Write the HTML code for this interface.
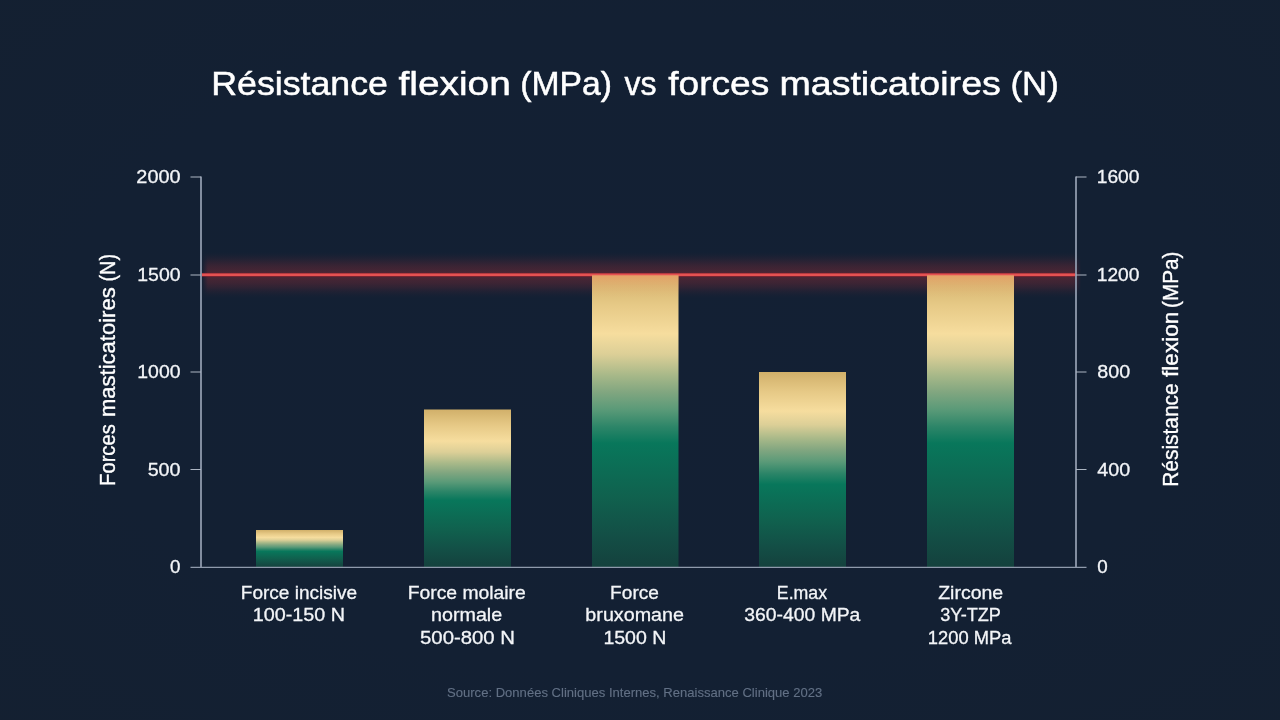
<!DOCTYPE html>
<html lang="fr">
<head>
<meta charset="utf-8">
<title>Résistance flexion (MPa) vs forces masticatoires (N)</title>
<style>
  html, body { margin: 0; padding: 0; background: #132033; }
  body { width: 1280px; height: 720px; overflow: hidden; font-family: "Liberation Sans", sans-serif; }
  svg { display: block; will-change: transform; }
  text { font-family: "Liberation Sans", sans-serif; }
</style>
</head>
<body>
<svg width="1280" height="720" viewBox="0 0 1280 720">
  <defs>
    <radialGradient id="bg" cx="50%" cy="48%" r="75%">
      <stop offset="0" stop-color="#132034"/>
      <stop offset="0.6" stop-color="#132033"/>
      <stop offset="1" stop-color="#142031"/>
    </radialGradient>
    <linearGradient id="bar" x1="0" y1="0" x2="0" y2="1">
      <stop offset="0" stop-color="#d1b06a"/>
      <stop offset="0.10" stop-color="#e6c986"/>
      <stop offset="0.20" stop-color="#f6dd9e"/>
      <stop offset="0.27" stop-color="#dccf97"/>
      <stop offset="0.34" stop-color="#a9b989"/>
      <stop offset="0.40" stop-color="#81a680"/>
      <stop offset="0.46" stop-color="#5a9a78"/>
      <stop offset="0.52" stop-color="#2c8568"/>
      <stop offset="0.575" stop-color="#08775b"/>
      <stop offset="0.76" stop-color="#10614e"/>
      <stop offset="0.89" stop-color="#134f46"/>
      <stop offset="1" stop-color="#14413d"/>
    </linearGradient>
    <linearGradient id="fadeL" x1="0" y1="0" x2="1" y2="0">
      <stop offset="0" stop-color="#132033" stop-opacity="1"/>
      <stop offset="1" stop-color="#132033" stop-opacity="0"/>
    </linearGradient>
    <linearGradient id="fadeR" x1="0" y1="0" x2="1" y2="0">
      <stop offset="0" stop-color="#132033" stop-opacity="0"/>
      <stop offset="1" stop-color="#132033" stop-opacity="1"/>
    </linearGradient>
    <linearGradient id="bartop" x1="0" y1="0" x2="0" y2="1">
      <stop offset="0" stop-color="#ff8c64" stop-opacity="0.42"/>
      <stop offset="0.17" stop-color="#ff8c64" stop-opacity="0.28"/>
      <stop offset="0.43" stop-color="#ff8c64" stop-opacity="0.14"/>
      <stop offset="0.78" stop-color="#ff8c64" stop-opacity="0.03"/>
      <stop offset="1" stop-color="#ff8c64" stop-opacity="0"/>
    </linearGradient>
    <linearGradient id="glow" x1="0" y1="0" x2="0" y2="1">
      <stop offset="0.0000" stop-color="#e63636" stop-opacity="0"/>
      <stop offset="0.0652" stop-color="#e63636" stop-opacity="0.02"/>
      <stop offset="0.1522" stop-color="#e63636" stop-opacity="0.07"/>
      <stop offset="0.2391" stop-color="#e63636" stop-opacity="0.14"/>
      <stop offset="0.3261" stop-color="#e63636" stop-opacity="0.2"/>
      <stop offset="0.4130" stop-color="#e63636" stop-opacity="0.24"/>
      <stop offset="0.4674" stop-color="#e63636" stop-opacity="0.27"/>
      <stop offset="0.5326" stop-color="#e63636" stop-opacity="0.27"/>
      <stop offset="0.5870" stop-color="#e63636" stop-opacity="0.24"/>
      <stop offset="0.6739" stop-color="#e63636" stop-opacity="0.2"/>
      <stop offset="0.7609" stop-color="#e63636" stop-opacity="0.14"/>
      <stop offset="0.8478" stop-color="#e63636" stop-opacity="0.07"/>
      <stop offset="0.9348" stop-color="#e63636" stop-opacity="0.02"/>
      <stop offset="1.0000" stop-color="#e63636" stop-opacity="0"/>
    </linearGradient>
  </defs>

  <!-- background -->
  <rect x="0" y="0" width="1280" height="720" fill="url(#bg)"/>


  <!-- glow behind line and bars -->
  <rect x="202" y="252" width="879" height="46" fill="url(#glow)"/>
  <rect x="202" y="252" width="6" height="46" fill="url(#fadeL)"/>
  <rect x="1074" y="252" width="7" height="46" fill="url(#fadeR)"/>

  <!-- threshold line (under bars) -->
  <rect x="201.5" y="272.9" width="874.5" height="3.9" fill="#9a2430" opacity="0.7"/>
  <rect x="201.5" y="273.5" width="874.5" height="2.5" fill="#e45252"/>

  <!-- bars -->
  <g fill="url(#bar)">
    <rect x="256" y="530" width="87" height="37.2"/>
    <rect x="424" y="409.5" width="87" height="157.7"/>
    <rect x="592" y="275.4" width="86.5" height="291.8"/>
    <rect x="759" y="372" width="87" height="195.2"/>
    <rect x="927" y="275.4" width="87" height="291.8"/>
  </g>

  <!-- warm tint of the glow on the tall bar tops -->
  <rect x="592" y="275.4" width="86.5" height="23" fill="url(#bartop)"/>
  <rect x="927" y="275.4" width="87" height="23" fill="url(#bartop)"/>

  <!-- axes -->
  <g stroke="#8f9aac" stroke-width="1.8" fill="none">
    <path d="M201 176.4 V567.2"/>
    <path d="M1076 176.4 V567.2"/>
    <path d="M190.5 177 H201 M1076 177 H1086.5" stroke-width="1.05" stroke="#adb6c3"/>
    <path d="M190.5 567.4 H1086.5" stroke-width="1.25" stroke="#8f9aac"/>
    <path d="M190.5 274.9 H201 M190.5 372 H201 M190.5 469.5 H201" stroke-width="1.05" stroke="#adb6c3"/>
    <path d="M1076 274.9 H1086.5 M1076 372 H1086.5 M1076 469.5 H1086.5" stroke-width="1.05" stroke="#adb6c3"/>
  </g>

  <!-- horizontal text: title, tick labels, category labels, source -->
  <text x="211.24" y="95.3" font-size="33.8" fill="#ffffff" stroke="#ffffff" stroke-width="0.5" textLength="176.65" lengthAdjust="spacingAndGlyphs">Résistance</text>
  <text x="398.55" y="95.3" font-size="33.8" fill="#ffffff" stroke="#ffffff" stroke-width="0.5" textLength="112.26" lengthAdjust="spacingAndGlyphs">flexion</text>
  <text x="520.26" y="95.3" font-size="33.8" fill="#ffffff" stroke="#ffffff" stroke-width="0.5" textLength="91.75" lengthAdjust="spacingAndGlyphs">(MPa)</text>
  <text x="624.45" y="95.3" font-size="33.8" fill="#ffffff" stroke="#ffffff" stroke-width="0.5" textLength="32.05" lengthAdjust="spacingAndGlyphs">vs</text>
  <text x="668.25" y="95.3" font-size="33.8" fill="#ffffff" stroke="#ffffff" stroke-width="0.5" textLength="101.09" lengthAdjust="spacingAndGlyphs">forces</text>
  <text x="779.43" y="95.3" font-size="33.8" fill="#ffffff" stroke="#ffffff" stroke-width="0.5" textLength="221.42" lengthAdjust="spacingAndGlyphs">masticatoires</text>
  <text x="1010.49" y="95.3" font-size="33.8" fill="#ffffff" stroke="#ffffff" stroke-width="0.5" textLength="48.35" lengthAdjust="spacingAndGlyphs">(N)</text>
  <text x="136.35" y="183.1" font-size="18.8" fill="#f3f5f8" stroke="#f3f5f8" stroke-width="0.3" textLength="44.17" lengthAdjust="spacingAndGlyphs">2000</text>
  <text x="137.32" y="280.8" font-size="18.8" fill="#f3f5f8" stroke="#f3f5f8" stroke-width="0.3" textLength="43.19" lengthAdjust="spacingAndGlyphs">1500</text>
  <text x="137.32" y="378.1" font-size="18.8" fill="#f3f5f8" stroke="#f3f5f8" stroke-width="0.3" textLength="43.19" lengthAdjust="spacingAndGlyphs">1000</text>
  <text x="147.65" y="475.6" font-size="18.8" fill="#f3f5f8" stroke="#f3f5f8" stroke-width="0.3" textLength="32.87" lengthAdjust="spacingAndGlyphs">500</text>
  <text x="170.05" y="572.8" font-size="18.8" fill="#f3f5f8" stroke="#f3f5f8" stroke-width="0.3" textLength="10.45" lengthAdjust="spacingAndGlyphs">0</text>
  <text x="1096.73" y="183.1" font-size="18.8" fill="#f3f5f8" stroke="#f3f5f8" stroke-width="0.3" textLength="42.68" lengthAdjust="spacingAndGlyphs">1600</text>
  <text x="1096.73" y="280.8" font-size="18.8" fill="#f3f5f8" stroke="#f3f5f8" stroke-width="0.3" textLength="42.68" lengthAdjust="spacingAndGlyphs">1200</text>
  <text x="1097.25" y="378.1" font-size="18.8" fill="#f3f5f8" stroke="#f3f5f8" stroke-width="0.3" textLength="32.87" lengthAdjust="spacingAndGlyphs">800</text>
  <text x="1097.25" y="475.6" font-size="18.8" fill="#f3f5f8" stroke="#f3f5f8" stroke-width="0.3" textLength="32.87" lengthAdjust="spacingAndGlyphs">400</text>
  <text x="1097.25" y="572.8" font-size="18.8" fill="#f3f5f8" stroke="#f3f5f8" stroke-width="0.3" textLength="10.45" lengthAdjust="spacingAndGlyphs">0</text>
  <text x="240.83" y="599.2" font-size="18.6" fill="#f3f5f8" stroke="#f3f5f8" stroke-width="0.3" textLength="116.27" lengthAdjust="spacingAndGlyphs">Force incisive</text>
  <text x="252.79" y="621.4" font-size="18.6" fill="#f3f5f8" stroke="#f3f5f8" stroke-width="0.3" textLength="92.28" lengthAdjust="spacingAndGlyphs">100-150 N</text>
  <text x="407.71" y="599.2" font-size="18.6" fill="#f3f5f8" stroke="#f3f5f8" stroke-width="0.3" textLength="118.09" lengthAdjust="spacingAndGlyphs">Force molaire</text>
  <text x="430.99" y="621.4" font-size="18.6" fill="#f3f5f8" stroke="#f3f5f8" stroke-width="0.3" textLength="71.22" lengthAdjust="spacingAndGlyphs">normale</text>
  <text x="420.05" y="643.5" font-size="18.6" fill="#f3f5f8" stroke="#f3f5f8" stroke-width="0.3" textLength="94.96" lengthAdjust="spacingAndGlyphs">500-800 N</text>
  <text x="610.12" y="599.2" font-size="18.6" fill="#f3f5f8" stroke="#f3f5f8" stroke-width="0.3" textLength="48.78" lengthAdjust="spacingAndGlyphs">Force</text>
  <text x="585.39" y="621.4" font-size="18.6" fill="#f3f5f8" stroke="#f3f5f8" stroke-width="0.3" textLength="98.62" lengthAdjust="spacingAndGlyphs">bruxomane</text>
  <text x="603.40" y="643.5" font-size="18.6" fill="#f3f5f8" stroke="#f3f5f8" stroke-width="0.3" textLength="62.95" lengthAdjust="spacingAndGlyphs">1500 N</text>
  <text x="776.80" y="599.2" font-size="18.6" fill="#f3f5f8" stroke="#f3f5f8" stroke-width="0.3" textLength="50.28" lengthAdjust="spacingAndGlyphs">E.max</text>
  <text x="744.35" y="621.4" font-size="18.6" fill="#f3f5f8" stroke="#f3f5f8" stroke-width="0.3" textLength="116.02" lengthAdjust="spacingAndGlyphs">360-400 MPa</text>
  <text x="938.15" y="599.2" font-size="18.6" fill="#f3f5f8" stroke="#f3f5f8" stroke-width="0.3" textLength="65.06" lengthAdjust="spacingAndGlyphs">Zircone</text>
  <text x="940.15" y="621.4" font-size="18.6" fill="#f3f5f8" stroke="#f3f5f8" stroke-width="0.3" textLength="60.79" lengthAdjust="spacingAndGlyphs">3Y-TZP</text>
  <text x="927.86" y="643.5" font-size="18.6" fill="#f3f5f8" stroke="#f3f5f8" stroke-width="0.3" textLength="83.64" lengthAdjust="spacingAndGlyphs">1200 MPa</text>
  <text x="447.06" y="696.9" font-size="13.2" fill="#627085" stroke="#627085" stroke-width="0.12" textLength="375.21" lengthAdjust="spacingAndGlyphs">Source: Données Cliniques Internes, Renaissance Clinique 2023</text>

  <!-- axis titles -->
  <text transform="translate(115.1 485.90) rotate(-90)" font-size="22.3" fill="#ffffff" stroke="#ffffff" stroke-width="0.35" textLength="61.64" lengthAdjust="spacingAndGlyphs">Forces</text>
  <text transform="translate(115.1 416.99) rotate(-90)" font-size="22.3" fill="#ffffff" stroke="#ffffff" stroke-width="0.35" textLength="129.63" lengthAdjust="spacingAndGlyphs">masticatoires</text>
  <text transform="translate(115.1 281.49) rotate(-90)" font-size="22.3" fill="#ffffff" stroke="#ffffff" stroke-width="0.35" textLength="27.46" lengthAdjust="spacingAndGlyphs">(N)</text>
  <text transform="translate(1177.7 486.74) rotate(-90)" font-size="22.3" fill="#ffffff" stroke="#ffffff" stroke-width="0.35" textLength="103.31" lengthAdjust="spacingAndGlyphs">Résistance</text>
  <text transform="translate(1177.7 377.00) rotate(-90)" font-size="22.3" fill="#ffffff" stroke="#ffffff" stroke-width="0.35" textLength="65.42" lengthAdjust="spacingAndGlyphs">flexion</text>
  <text transform="translate(1177.7 307.93) rotate(-90)" font-size="22.3" fill="#ffffff" stroke="#ffffff" stroke-width="0.35" textLength="56.32" lengthAdjust="spacingAndGlyphs">(MPa)</text>
</svg>
</body>
</html>
